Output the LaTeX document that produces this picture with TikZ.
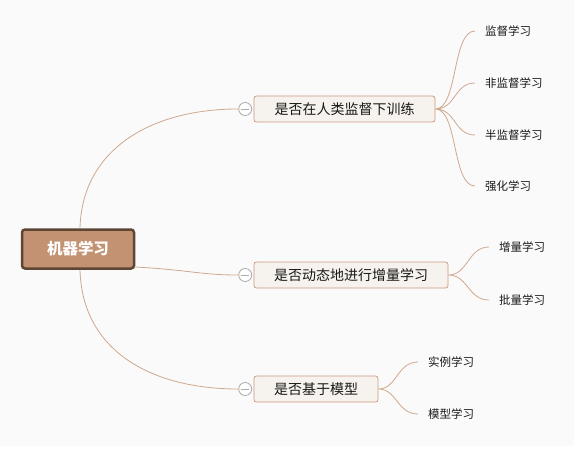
\documentclass[tikz,border=0pt]{standalone}
\usepackage{fontspec}
\setmainfont{Noto Sans CJK SC}
\usetikzlibrary{positioning}
\definecolor{rootfill}{HTML}{C29272}
\definecolor{rootline}{HTML}{5E4534}
\definecolor{branchfill}{HTML}{F6F2ED}
\definecolor{branchline}{HTML}{CC9B7E}
\definecolor{edgecol}{HTML}{CFA88E}
\definecolor{bgcol}{HTML}{FAFAFA}

\begin{document}
\begin{tikzpicture}[x=1pt,y=-1pt,
    rootbox/.style={draw=rootline,line width=2.5pt,fill=rootfill,rounded corners=3pt,
      minimum width=112pt,minimum height=39pt,text=white,font=\fontsize{15.5}{18}\selectfont\bfseries},
    branchbox/.style={draw=branchline,line width=0.8pt,fill=branchfill,rounded corners=2.5pt,
      minimum height=26pt,text=black!90,font=\fontsize{14}{16}\selectfont},
    leaf/.style={anchor=west,inner xsep=10pt,inner ysep=0pt,text=black!90,font=\fontsize{11.5}{13}\selectfont},
    fold/.style={circle,draw=gray!65,fill=white,line width=0.8pt,minimum size=13pt,inner sep=0pt,
      path picture={\draw[gray!65,line width=0.8pt]
        ([xshift=-4pt]path picture bounding box.center) -- ([xshift=4pt]path picture bounding box.center);}},
    link/.style={draw=edgecol,line width=0.8pt}]
    \fill[bgcol] (0,0) rectangle (574,446);
    \fill[white] (0,446) rectangle (574,452);
    \useasboundingbox (0,0) rectangle (574,452);

    % root and the three questions
    \node[rootbox] (root) at (78,249) {机器学习};
    \node[branchbox,minimum width=181pt] (sup) at (344.5,109) {是否在人类监督下训练};
    \node[fold] (fsup) [left=1.5pt of sup] {};
    \node[branchbox,minimum width=194pt] (inc) at (351,275) {是否动态地进行增量学习};
    \node[fold] (finc) [left=1.5pt of inc] {};
    \node[branchbox,minimum width=124pt] (mod) at (316,389) {是否基于模型};
    \node[fold] (fmod) [left=1.5pt of mod] {};

    % leaves
    \node[leaf] (l1) at (475,31) {监督学习};
    \node[leaf] (l2) at (475,83) {非监督学习};
    \node[leaf] (l3) at (475,135) {半监督学习};
    \node[leaf] (l4) at (475,186) {强化学习};
    \node[leaf] (l5) at (489,247) {增量学习};
    \node[leaf] (l6) at (489,300) {批量学习};
    \node[leaf] (l7) at (418,362) {实例学习};
    \node[leaf] (l8) at (418,414) {模型学习};

    \path[link]
    ([xshift=2pt]root.north) .. controls (82,150) and (150,109) .. (fsup.west)
    ([yshift=-18pt]root.east) .. controls (190,270) and (200,275) .. (finc.west)
    ([xshift=2pt]root.south) .. controls (82,350) and (150,389) .. (fmod.west);

    \path[link]
    (sup.east) .. controls (458,109) and (452,31) .. (l1.west)
    (sup.east) .. controls (456,109) and (454,83) .. (l2.west)
    (sup.east) .. controls (456,109) and (454,135) .. (l3.west)
    (sup.east) .. controls (458,109) and (452,186) .. (l4.west)
    (inc.east) .. controls (468,275) and (468,247) .. (l5.west)
    (inc.east) .. controls (468,275) and (468,300) .. (l6.west)
    (mod.east) .. controls (397,389) and (397,362) .. (l7.west)
    (mod.east) .. controls (397,389) and (397,414) .. (l8.west);
\end{tikzpicture}
\end{document}
